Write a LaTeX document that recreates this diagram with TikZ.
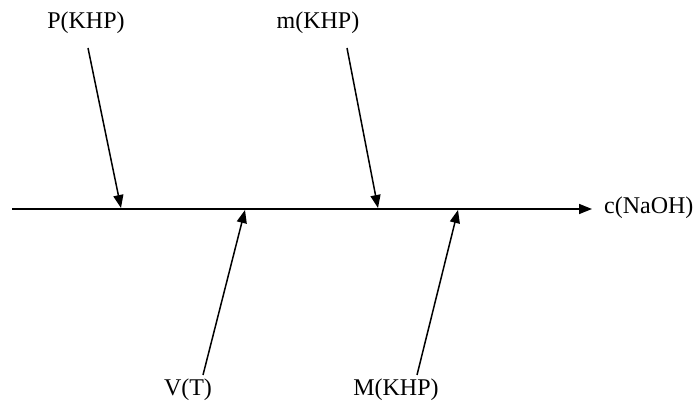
\documentclass[tikz,border=0pt]{standalone}
\usepackage{fontspec}
\setmainfont{Liberation Serif}
\usetikzlibrary{arrows.meta}
\begin{document}
\begin{tikzpicture}[x=1pt,y=-1pt,
  lbl/.style={inner sep=0pt,font=\fontsize{24}{28}\selectfont},
  arr/.style={line width=1.5pt,-{Triangle[length=13pt,width=10pt]}}]
\useasboundingbox (0,0) rectangle (694,411);
\coordinate (s) at (12,209);
\coordinate (e) at (592,209);
\draw[arr] (s) -- (e);
\node[lbl,anchor=west] (c) at (604,208) {c(NaOH)};
\node[lbl] (p) at (86,23) {P(KHP)};
\node[lbl] (m) at (318,23) {m(KHP)};
\node[lbl] (v) at (188,390) {V(T)};
\node[lbl] (M) at (396,390) {M(KHP)};
\coordinate (p0) at (88,48);  \coordinate (p1) at (121,208);
\coordinate (m0) at (347,48); \coordinate (m1) at (378,208);
\coordinate (v0) at (203,375); \coordinate (v1) at (245,210);
\coordinate (M0) at (417,375); \coordinate (M1) at (458,210);
\draw[arr] (p0) -- (p1);
\draw[arr] (m0) -- (m1);
\draw[arr] (v0) -- (v1);
\draw[arr] (M0) -- (M1);
\end{tikzpicture}
\end{document}
